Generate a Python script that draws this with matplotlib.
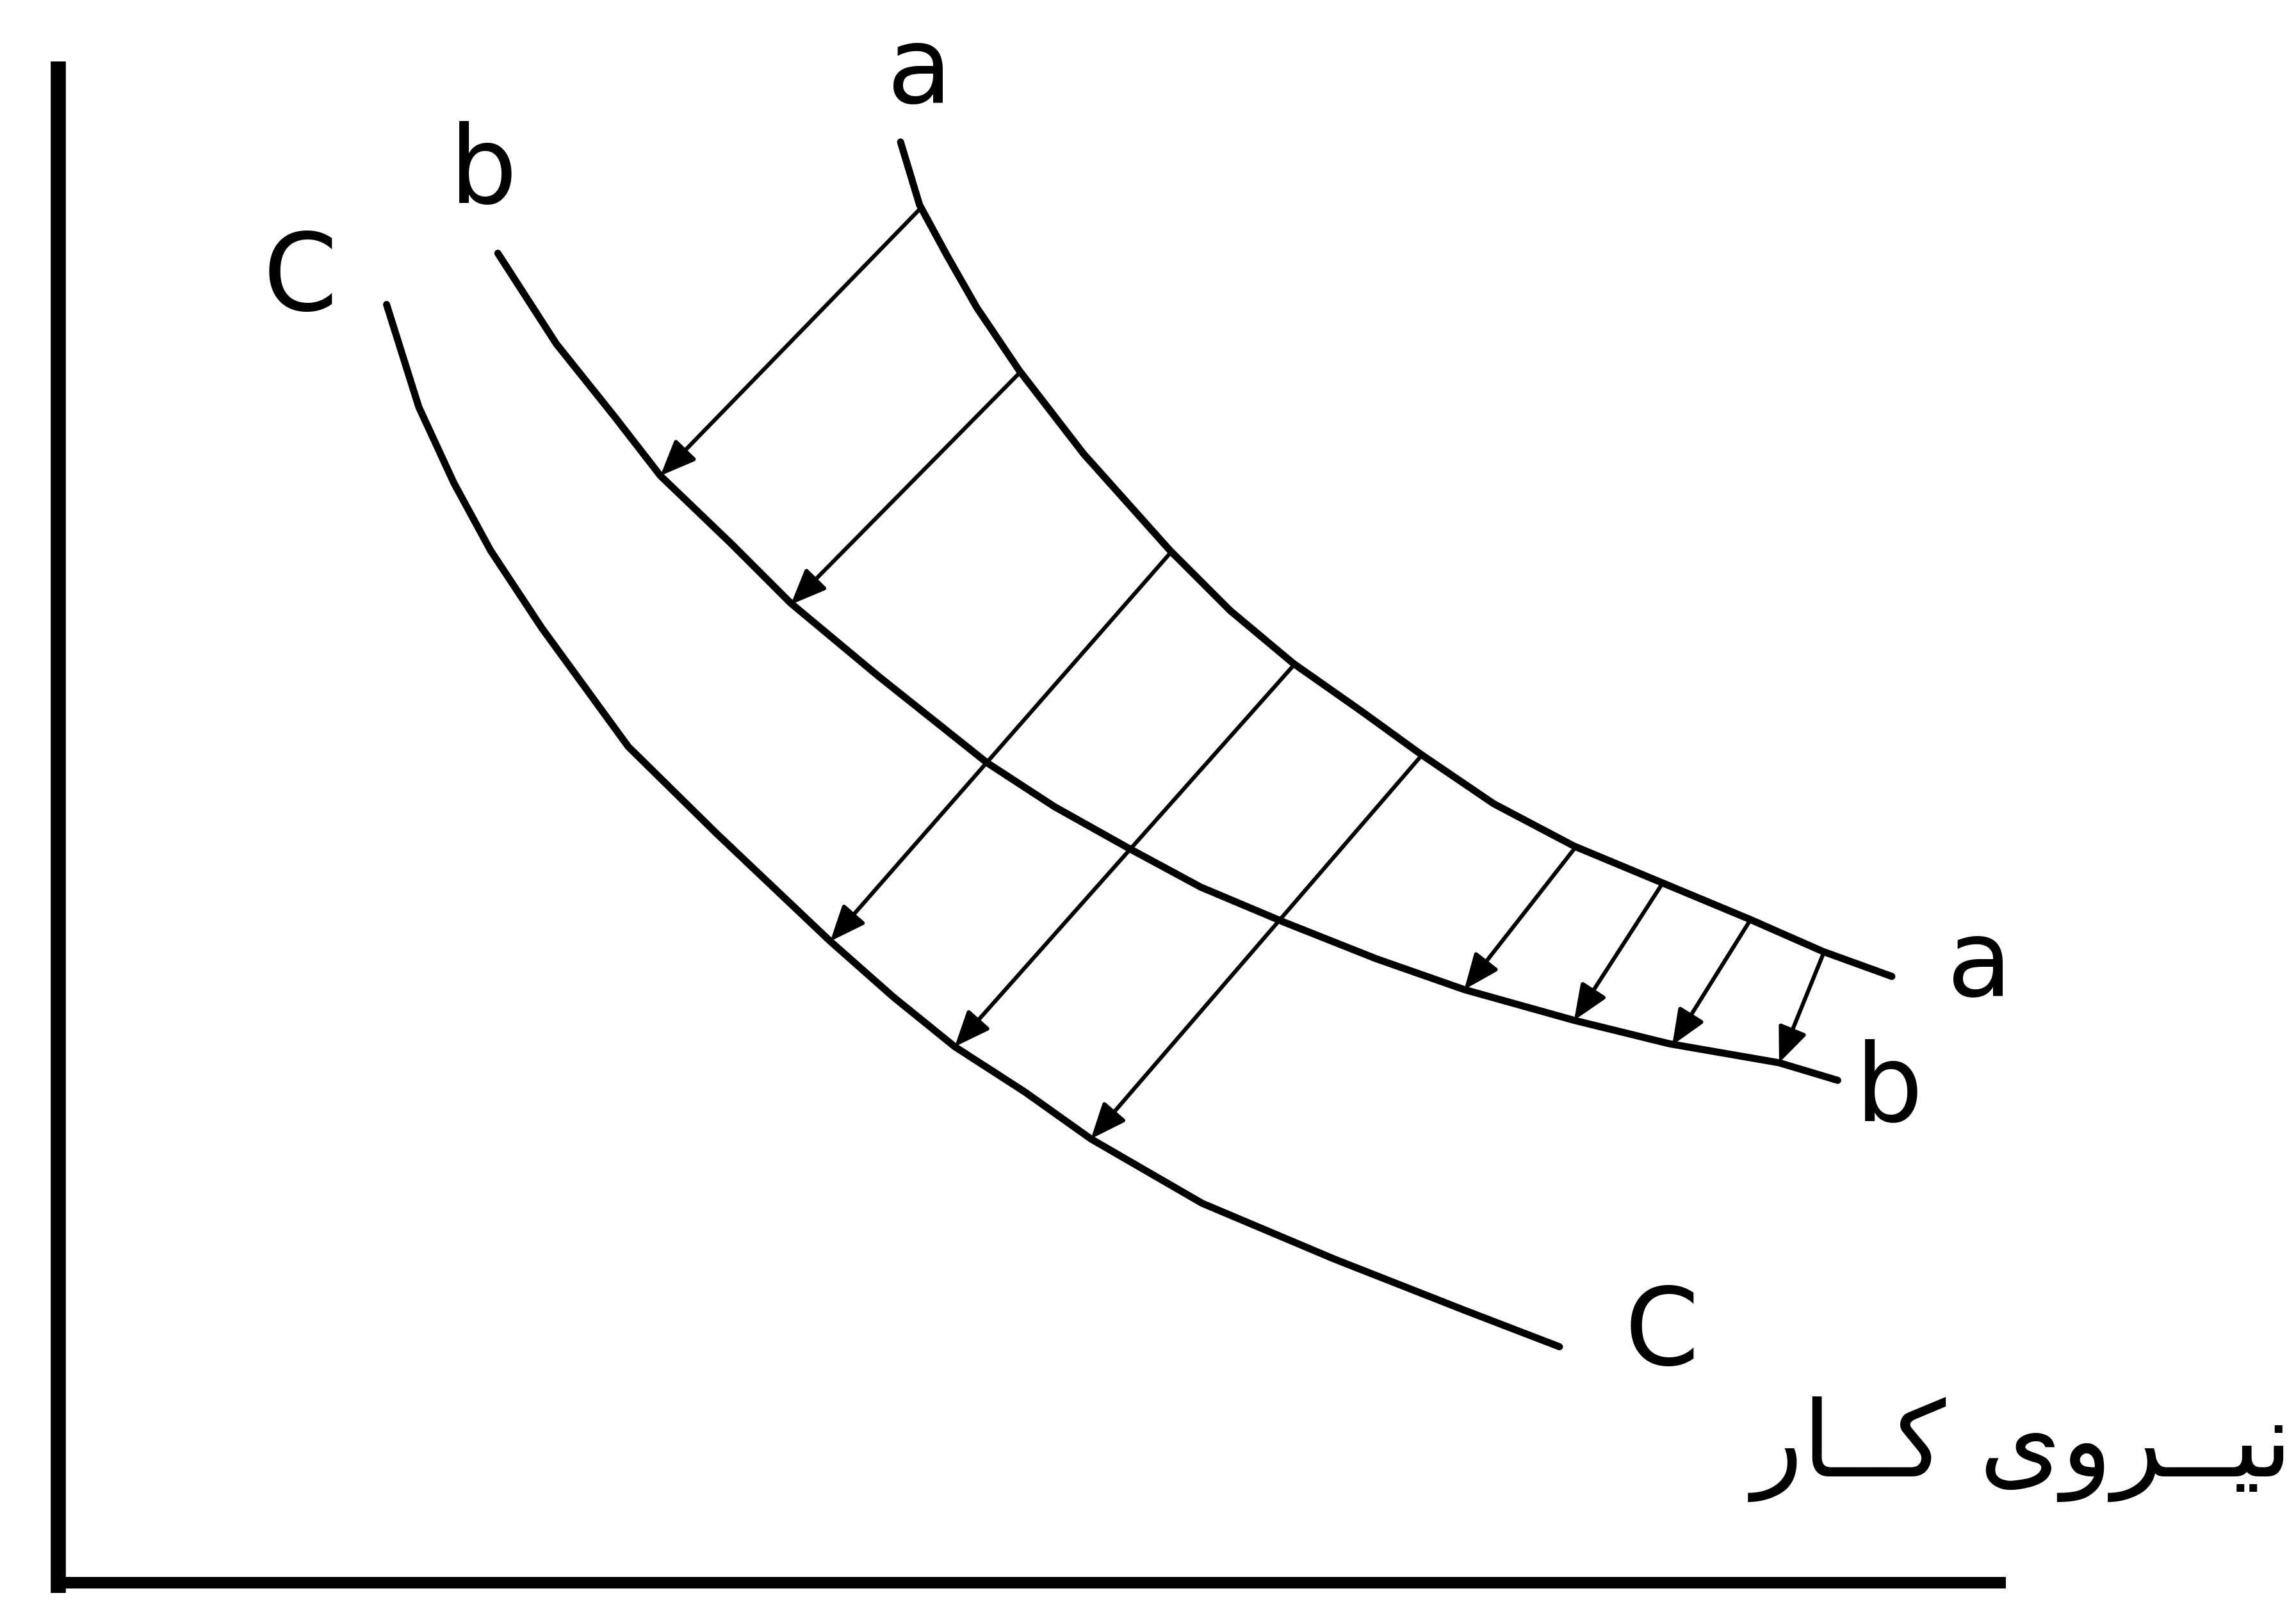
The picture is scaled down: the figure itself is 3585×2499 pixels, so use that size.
import matplotlib.pyplot as plt

# curves (x, y in picture units, y downwards)
a_x = [615, 628, 647, 667, 696, 740, 799, 840, 883, 930, 970, 1020, 1075, 1135, 1195, 1245, 1292]
a_y = [97, 140, 175, 210, 253, 310, 376, 417, 453, 486, 515, 549, 578, 603, 628, 650, 667]

b_x = [340, 380, 420, 451, 500, 540, 600, 674, 720, 770, 820, 877, 940, 1000, 1075, 1140, 1215, 1255]
b_y = [173, 235, 285, 325, 372, 412, 462, 521, 551, 579, 606, 630, 655, 676, 697, 713, 726, 738]

c_x = [264, 286, 310, 335, 370, 429, 490, 567, 610, 652, 700, 745, 821, 911, 1000, 1065]
c_y = [208, 278, 330, 376, 429, 510, 570, 643, 681, 715, 746, 778, 822, 860, 895, 920]

# shift arrows: start on upper curve, end on lower curve
arrow_start = [(628, 143), (696, 255), (799, 378), (883, 455), (970, 517),
               (1075, 580), (1135, 604), (1195, 629), (1245, 652)]
arrow_end = [(451, 325), (540, 413), (567, 643), (652, 715), (745, 778),
             (1000, 676), (1075, 697), (1142, 714), (1215, 726)]

labels = ['a', 'b', 'C', 'a', 'b', 'C']
label_pos = [(628, 50), (330, 118), (205, 192), (1352, 660), (1290, 745), (1135, 912)]

axis_label = '\ufead\ufe8e\u0640\u0640\ufb90 \ufeef\ufeed\ufeae\u0640\u0640\ufef4\ufee7'

fig = plt.figure(figsize=(35.85, 24.99), dpi=100)
ax = fig.add_axes([0, 0, 1, 1])
ax.set_xlim(0, 1568)
ax.set_ylim(1093, 0)
ax.axis('off')

# axes drawn by hand
ax.plot([40, 40], [42, 1088], color='black', lw=17, solid_capstyle='butt')
ax.plot([36, 1370], [1081, 1081], color='black', lw=13, solid_capstyle='butt')

for xs, ys in [(a_x, a_y), (b_x, b_y), (c_x, c_y)]:
	ax.plot(xs, ys, color='black', lw=8, solid_capstyle='round', solid_joinstyle='round')

for s, e in zip(arrow_start, arrow_end):
	ax.annotate('', xy=e, xytext=s,
		arrowprops=dict(arrowstyle='-|>,head_length=1.2,head_width=0.5', mutation_scale=28,
			color='black', lw=4.5, shrinkA=0, shrinkB=0))

for t, (x, y) in zip(labels, label_pos):
	ax.text(x, y, t, fontsize=120, ha='center', va='center', family='DejaVu Sans')

ax.text(1566, 990, axis_label, fontsize=118, ha='right', va='center', family='DejaVu Sans')

fig.savefig('out.png', dpi=100, facecolor='white')
